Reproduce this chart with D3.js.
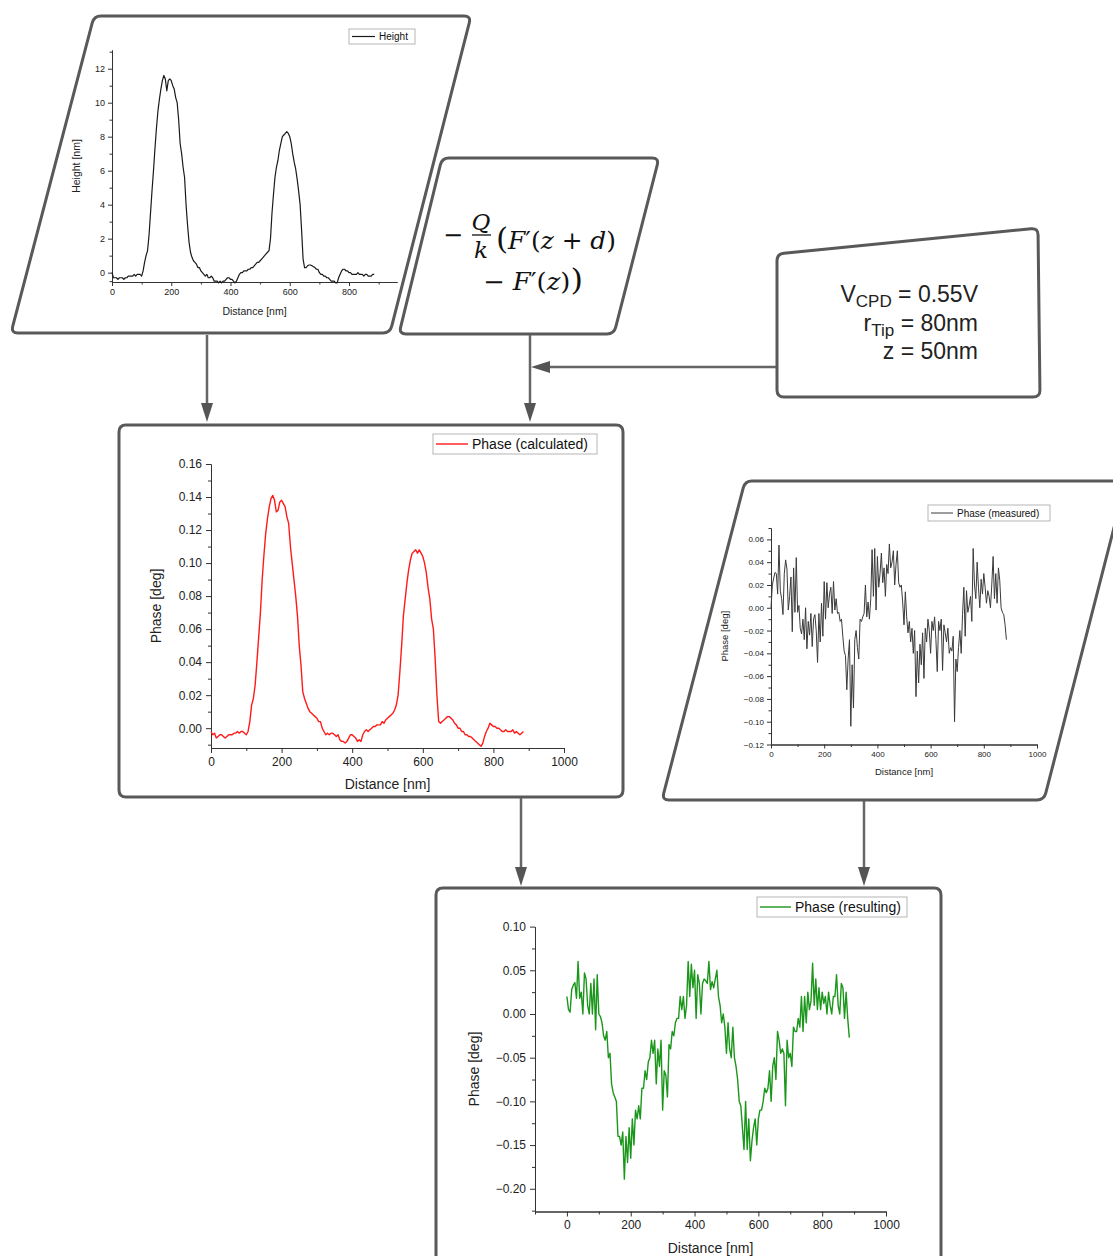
<!DOCTYPE html>
<html>
<head>
<meta charset="utf-8">
<script src="https://cdn.jsdelivr.net/npm/d3@7"></script>
<style>
  body { margin: 0; background: #fff; }
  svg { display: block; font-family: "Liberation Sans", Arial, sans-serif; }
</style>
</head>
<body>
<script>
// sampling positions along the scan line [nm]
const distance = [
  0, 5, 10, 15, 20, 25, 30, 35, 40, 45,
  50, 55, 60, 65, 70, 75, 80, 85, 90, 95,
  100, 105, 110, 115, 120, 125, 130, 135, 140, 145,
  150, 155, 160, 165, 170, 175, 180, 185, 190, 195,
  200, 205, 210, 215, 220, 225, 230, 235, 240, 245,
  250, 255, 260, 265, 270, 275, 280, 285, 290, 295,
  300, 305, 310, 315, 320, 325, 330, 335, 340, 345,
  350, 355, 360, 365, 370, 375, 380, 385, 390, 395,
  400, 405, 410, 415, 420, 425, 430, 435, 440, 445,
  450, 455, 460, 465, 470, 475, 480, 485, 490, 495,
  500, 505, 510, 515, 520, 525, 530, 535, 540, 545,
  550, 555, 560, 565, 570, 575, 580, 585, 590, 595,
  600, 605, 610, 615, 620, 625, 630, 635, 640, 645,
  650, 655, 660, 665, 670, 675, 680, 685, 690, 695,
  700, 705, 710, 715, 720, 725, 730, 735, 740, 745,
  750, 755, 760, 765, 770, 775, 780, 785, 790, 795,
  800, 805, 810, 815, 820, 825, 830, 835, 840, 845,
  850, 855, 860, 865, 870, 875, 880, 885
];

// topography [nm]
const heightProfile = [
  0.0, -0.3, -0.3, -0.3, -0.4, -0.3, -0.3, -0.3, -0.4, -0.3,
  -0.3, -0.2, -0.2, -0.2, -0.2, -0.1, -0.2, -0.1, -0.1, -0.1,
  -0.2, 0.1, 0.6, 1.0, 1.3, 2.2, 3.5, 4.8, 6.0, 7.3,
  8.5, 9.5, 10.2, 10.8, 11.3, 11.6, 11.4, 10.7, 11.3, 11.4,
  11.3, 11.0, 10.8, 10.3, 10.0, 9.0, 7.6, 7.0, 6.2, 5.6,
  4.0, 2.8, 1.8, 1.2, 0.9, 0.7, 0.6, 0.5, 0.3, 0.3,
  0.1, 0.0, -0.1, -0.2, -0.1, -0.3, -0.3, -0.2, -0.3, -0.5,
  -0.5, -0.5, -0.6, -0.5, -0.6, -0.5, -0.5, -0.4, -0.3, -0.3,
  -0.4, -0.4, -0.5, -0.6, -0.5, -0.3, -0.1, 0.0, 0.0, 0.1,
  0.1, 0.1, 0.2, 0.2, 0.3, 0.3, 0.4, 0.5, 0.6, 0.6,
  0.7, 0.8, 0.9, 1.0, 1.1, 1.2, 1.3, 2.0, 3.5, 4.6,
  5.6, 6.2, 6.6, 7.2, 7.6, 8.0, 8.1, 8.2, 8.3, 8.2,
  8.0, 7.6, 7.0, 6.5, 6.1, 5.5, 4.8, 4.0, 2.5, 0.8,
  0.3, 0.3, 0.4, 0.45, 0.45, 0.4, 0.35, 0.3, 0.2, 0.2,
  0.0, -0.1, -0.1, -0.2, -0.2, -0.3, -0.3, -0.4, -0.5, -0.5,
  -0.5, -0.6, -0.6, -0.3, -0.1, 0.1, 0.2, 0.2, 0.1, 0.1,
  0.0, 0.0, -0.1, -0.1, -0.1, -0.1, 0.0, -0.1, -0.1, -0.1,
  -0.2, -0.1, -0.1, -0.2, -0.2, -0.2, -0.1, -0.1
];

// calculated phase [deg]
const phaseCalculated = [
  -0.002, -0.004, -0.003, -0.006, -0.005, -0.004, -0.004, -0.005, -0.006, -0.005,
  -0.004, -0.004, -0.004, -0.003, -0.003, -0.002, -0.003, -0.002, -0.002, -0.003,
  -0.004, -0.002, 0.004, 0.014, 0.018, 0.026, 0.040, 0.055, 0.070, 0.090,
  0.105, 0.118, 0.127, 0.134, 0.139, 0.141, 0.138, 0.131, 0.132, 0.137,
  0.138, 0.136, 0.134, 0.128, 0.124, 0.110, 0.100, 0.090, 0.080, 0.068,
  0.050, 0.038, 0.022, 0.018, 0.015, 0.012, 0.010, 0.009, 0.008, 0.007,
  0.006, 0.004, 0.004, 0.000, -0.002, -0.004, -0.003, -0.004, -0.003, -0.003,
  -0.004, -0.005, -0.004, -0.007, -0.008, -0.008, -0.009, -0.008, -0.006, -0.004,
  -0.004, -0.005, -0.006, -0.008, -0.007, -0.008, -0.004, -0.002, -0.001, -0.002,
  -0.001, 0.000, 0.001, 0.001, 0.002, 0.002, 0.002, 0.004, 0.003, 0.005,
  0.006, 0.007, 0.008, 0.009, 0.011, 0.014, 0.020, 0.034, 0.050, 0.068,
  0.078, 0.088, 0.096, 0.102, 0.106, 0.107, 0.108, 0.106, 0.108, 0.106,
  0.104, 0.100, 0.094, 0.085, 0.078, 0.066, 0.060, 0.042, 0.020, 0.004,
  0.003, 0.004, 0.005, 0.006, 0.007, 0.007, 0.006, 0.005, 0.003, 0.002,
  0.000, 0.000, -0.002, -0.002, -0.004, -0.004, -0.005, -0.005, -0.006, -0.007,
  -0.008, -0.009, -0.010, -0.011, -0.009, -0.005, -0.002, 0.000, 0.003, 0.002,
  0.001, 0.001, 0.000, 0.000, -0.001, -0.002, -0.002, -0.001, -0.002, -0.002,
  -0.002, -0.001, -0.003, -0.002, -0.003, -0.004, -0.003, -0.002
];

// measured phase [deg]
const phaseMeasured = [
  0.000, 0.020, 0.026, 0.031, 0.030, 0.012, 0.055, 0.015, 0.008, -0.006,
  0.030, 0.042, 0.034, -0.002, 0.010, 0.027, -0.021, 0.035, -0.004, 0.044,
  -0.004, 0.002, -0.018, -0.023, -0.010, -0.028, 0.000, -0.036, -0.012, -0.024,
  -0.005, -0.034, -0.010, -0.006, -0.020, -0.048, -0.005, -0.030, 0.004, -0.025,
  0.023, -0.010, 0.022, 0.000, 0.012, 0.018, -0.005, 0.023, -0.002, 0.008,
  -0.005, -0.004, -0.012, -0.010, -0.025, -0.038, -0.042, -0.072, -0.045, -0.028,
  -0.104, -0.050, -0.088, -0.028, -0.020, -0.035, -0.045, -0.010, -0.012, -0.008,
  -0.005, 0.020, -0.008, 0.005, -0.010, 0.008, 0.051, 0.010, 0.052, -0.002,
  0.045, 0.018, 0.030, 0.048, 0.022, 0.035, 0.010, 0.038, 0.030, 0.056,
  0.035, 0.040, 0.050, 0.020, 0.038, 0.050, 0.022, 0.018, 0.020, 0.005,
  -0.015, 0.014, -0.008, -0.022, -0.012, -0.030, -0.018, -0.040, -0.020, -0.078,
  -0.038, -0.066, -0.032, -0.050, -0.022, -0.062, -0.018, -0.030, -0.010, -0.020,
  -0.040, -0.012, -0.020, -0.008, -0.028, -0.056, -0.012, -0.020, -0.010, -0.055,
  -0.015, -0.022, -0.030, -0.018, -0.040, -0.035, -0.038, -0.025, -0.100, -0.045,
  -0.056, -0.035, -0.020, -0.040, -0.006, 0.018, -0.025, 0.015, -0.004, 0.002,
  0.010, -0.012, 0.052, 0.020, 0.008, 0.040, 0.018, 0.000, 0.025, 0.012,
  0.030, 0.018, 0.004, 0.015, 0.010, 0.000, 0.020, 0.045, 0.008, 0.030,
  0.004, 0.035, 0.024, 0.000, -0.004, -0.006, -0.015, -0.028
];

// resulting phase [deg]
const phaseResulting = [
  0.020, 0.005, 0.002, 0.028, 0.033, 0.036, 0.018, 0.060, 0.018, 0.025,
  0.000, 0.047, 0.040, 0.010, 0.000, 0.035, 0.000, 0.040, -0.018, 0.045,
  0.000, -0.003, -0.010, -0.025, -0.030, -0.020, -0.050, -0.045, -0.080, -0.090,
  -0.095, -0.100, -0.140, -0.140, -0.150, -0.135, -0.189, -0.140, -0.170, -0.130,
  -0.165, -0.120, -0.150, -0.110, -0.120, -0.105, -0.120, -0.085, -0.085, -0.065,
  -0.075, -0.055, -0.050, -0.030, -0.045, -0.030, -0.080, -0.040, -0.060, -0.030,
  -0.110, -0.065, -0.070, -0.095, -0.035, -0.040, -0.020, -0.025, -0.010, -0.005,
  -0.005, 0.020, 0.005, 0.020, -0.005, 0.010, 0.060, 0.020, 0.057, 0.030,
  0.050, -0.005, 0.045, 0.035, 0.000, 0.035, 0.040, 0.038, 0.035, 0.060,
  0.028, 0.037, 0.030, 0.040, 0.050, 0.020, 0.010, -0.010, 0.000, -0.015,
  -0.045, -0.010, -0.040, -0.050, -0.015, -0.050, -0.060, -0.075, -0.100, -0.105,
  -0.130, -0.155, -0.100, -0.155, -0.120, -0.168, -0.145, -0.130, -0.120, -0.150,
  -0.120, -0.110, -0.110, -0.100, -0.085, -0.090, -0.085, -0.065, -0.100, -0.060,
  -0.050, -0.075, -0.020, -0.030, -0.045, -0.040, -0.045, -0.105, -0.030, -0.050,
  -0.045, -0.060, -0.015, -0.020, -0.020, -0.005, -0.015, 0.020, -0.020, 0.020,
  -0.010, 0.025, 0.005, 0.015, 0.058, 0.010, 0.040, 0.005, 0.030, 0.005,
  0.025, 0.012, 0.020, 0.000, 0.025, 0.010, 0.000, 0.020, 0.020, 0.045,
  0.010, 0.000, 0.035, 0.030, -0.005, 0.025, -0.005, -0.027
];

// tick values
const heightYTicks = [0, 2, 4, 6, 8, 10, 12];
const heightYMinor = [-0.5, 1, 3, 5, 7, 9, 11, 13];
const heightXTicks = [0, 200, 400, 600, 800];
const heightXMinor = [100, 300, 500, 700, 900];
const calcYTicks = [0, 0.02, 0.04, 0.06, 0.08, 0.10, 0.12, 0.14, 0.16];
const calcYMinor = [-0.01, 0.01, 0.03, 0.05, 0.07, 0.09, 0.11, 0.13, 0.15];
const phaseXTicks = [0, 200, 400, 600, 800, 1000];
const phaseXMinor = [100, 300, 500, 700, 900];
const measYTicks = [-0.12, -0.10, -0.08, -0.06, -0.04, -0.02, 0, 0.02, 0.04, 0.06];
const measYMinor = [-0.11, -0.09, -0.07, -0.05, -0.03, -0.01, 0.01, 0.03, 0.05, 0.07];
const resYTicks = [-0.20, -0.15, -0.10, -0.05, 0, 0.05, 0.10];
const resYMinor = [-0.225, -0.175, -0.125, -0.075, -0.025, 0.025, 0.075];
const resXMinor = [-100, 100, 300, 500, 700, 900];

const W = 1113, H = 1256;
const svg = d3.select("body").append("svg")
  .attr("width", W).attr("height", H);

const frameColor = "#595959";
const arrowColor = "#666";

// path for a polygon with rounded corners
const roundedPath = function(pts, r){
  var n = pts.length, d = "";
  for (var i = 0; i < n; i++){
    var p0 = pts[(i - 1 + n) % n], p1 = pts[i], p2 = pts[(i + 1) % n];
    var l1 = Math.hypot(p0[0] - p1[0], p0[1] - p1[1]);
    var l2 = Math.hypot(p2[0] - p1[0], p2[1] - p1[1]);
    var a = [p1[0] + (p0[0] - p1[0]) / l1 * r, p1[1] + (p0[1] - p1[1]) / l1 * r];
    var b = [p1[0] + (p2[0] - p1[0]) / l2 * r, p1[1] + (p2[1] - p1[1]) / l2 * r];
    d += (i == 0 ? "M" : "L") + a[0] + "," + a[1] + "Q" + p1[0] + "," + p1[1] + " " + b[0] + "," + b[1];
  }
  return d + "Z";
};

const drawFrame = function(pts){
  svg.append("path")
     .attr("d", roundedPath(pts, 7))
     .attr("fill", "#fff")
     .attr("stroke", frameColor)
     .attr("stroke-width", 3);
};

// frames
drawFrame([[94, 16], [471, 16], [390, 333], [11, 333]]);
drawFrame([[442, 158], [659, 158], [614, 334], [399, 334]]);
drawFrame([[777, 254], [1038, 228], [1040, 397], [777, 397]]);
drawFrame([[119, 425], [623, 425], [623, 797], [119, 797]]);
drawFrame([[745, 481], [1126, 481], [1044, 800], [662, 800]]);
drawFrame([[436, 888], [941, 888], [941, 1280], [436, 1280]]);

// arrows
const arrowDown = function(x, y0, y1){
  svg.append("line")
     .attr("x1", x).attr("x2", x).attr("y1", y0).attr("y2", y1 - 16)
     .attr("stroke", arrowColor).attr("stroke-width", 2.5);
  svg.append("path")
     .attr("d", `M${x - 6},${y1 - 19}L${x + 6},${y1 - 19}L${x},${y1}Z`)
     .attr("fill", "#555");
};
arrowDown(207, 335, 422);
arrowDown(530, 335, 422);
arrowDown(521, 798, 886);
arrowDown(864, 801, 886);
svg.append("line")
   .attr("x1", 776).attr("x2", 547).attr("y1", 367).attr("y2", 367)
   .attr("stroke", arrowColor).attr("stroke-width", 2.5);
svg.append("path")
   .attr("d", "M550,361L550,373L531,367Z")
   .attr("fill", "#555");

// one line chart panel
const drawPanel = function(o){
  var x = d3.scaleLinear().domain(o.xDomain).range(o.xRange);
  var y = d3.scaleLinear().domain(o.yDomain).range(o.yRange);
  var g = svg.append("g");
  var fmt = o.yFormat ? d3.format(o.yFormat) : d3.format("d");

  // minor ticks
  g.append("g")
   .attr("transform", `translate(${o.xRange[0]},0)`)
   .call(d3.axisLeft(y).tickValues(o.yMinor).tickSize(o.minorSize).tickFormat("").tickSizeOuter(0));
  g.append("g")
   .attr("transform", `translate(0,${o.yRange[0]})`)
   .call(d3.axisBottom(x).tickValues(o.xMinor).tickSize(o.minorSize).tickFormat("").tickSizeOuter(0));
  // major ticks
  var yAx = g.append("g")
   .attr("transform", `translate(${o.xRange[0]},0)`)
   .call(d3.axisLeft(y).tickValues(o.yTicks).tickSize(o.majorSize).tickPadding(o.pad)
          .tickFormat(fmt).tickSizeOuter(0));
  var xAx = g.append("g")
   .attr("transform", `translate(0,${o.yRange[0]})`)
   .call(d3.axisBottom(x).tickValues(o.xTicks).tickSize(o.majorSize).tickPadding(o.pad)
          .tickFormat(d3.format("d")).tickSizeOuter(0));
  g.selectAll(".domain, .tick line").attr("stroke", "#333").attr("stroke-width", 1);
  g.selectAll(".tick text")
   .attr("font-family", "Liberation Sans, Arial, sans-serif")
   .attr("font-size", o.tickFont).attr("fill", "#222");

  // axis titles
  g.append("text")
   .attr("transform", `translate(${o.yTitleX},${(o.yRange[0] + o.yRange[1]) / 2}) rotate(-90)`)
   .attr("text-anchor", "middle")
   .attr("font-size", o.titleFont).attr("fill", "#222")
   .text(o.yTitle);
  g.append("text")
   .attr("x", (o.xRange[0] + o.xRange[1]) / 2)
   .attr("y", o.xTitleY)
   .attr("text-anchor", "middle")
   .attr("font-size", o.titleFont).attr("fill", "#222")
   .text("Distance [nm]");

  // data line
  var pts = distance.map(function(d, i){ return [d, o.values[i]]; });
  var line = d3.line()
               .x(function(d){ return x(d[0]); })
               .y(function(d){ return y(d[1]); });
  g.append("path")
   .attr("d", line(pts))
   .attr("fill", "none")
   .attr("stroke", o.color)
   .attr("stroke-width", o.lineWidth)
   .attr("stroke-linejoin", "round");

  // legend
  var L = o.legend;
  g.append("rect")
   .attr("x", L.x).attr("y", L.y).attr("width", L.w).attr("height", L.h)
   .attr("fill", "#fff").attr("stroke", "#b5b5b5").attr("stroke-width", 1);
  g.append("line")
   .attr("x1", L.x + 3).attr("x2", L.x + L.line).attr("y1", L.y + L.h / 2).attr("y2", L.y + L.h / 2)
   .attr("stroke", o.color).attr("stroke-width", o.lineWidth);
  g.append("text")
   .attr("x", L.x + L.line + 4).attr("y", L.y + L.h / 2 + L.font * 0.36)
   .attr("font-size", L.font).attr("fill", "#111")
   .text(L.text);
};

// height profile
drawPanel({
  xDomain: [0, 962], xRange: [112, 397],
  yDomain: [-0.55, 13.1], yRange: [282, 50],
  xTicks: heightXTicks, xMinor: heightXMinor,
  yTicks: heightYTicks, yMinor: heightYMinor,
  majorSize: 4, minorSize: 2.5, pad: 3,
  tickFont: 9, titleFont: 10.5,
  yTitle: "Height [nm]", yTitleX: 80, xTitleY: 315,
  values: heightProfile, color: "#1a1a1a", lineWidth: 1.2,
  legend: {x: 349, y: 29, w: 66, h: 15, line: 26, font: 10, text: "Height"}
});

// calculated phase
drawPanel({
  xDomain: [0, 1000], xRange: [211, 564],
  yDomain: [-0.012, 0.16], yRange: [748, 464],
  xTicks: phaseXTicks, xMinor: phaseXMinor,
  yTicks: calcYTicks, yMinor: calcYMinor, yFormat: ".2f",
  majorSize: 5, minorSize: 3, pad: 4,
  tickFont: 12, titleFont: 14,
  yTitle: "Phase [deg]", yTitleX: 161, xTitleY: 789,
  values: phaseCalculated, color: "#ff1a1a", lineWidth: 1.4,
  legend: {x: 433, y: 434, w: 164, h: 20, line: 35, font: 14, text: "Phase (calculated)"}
});

// measured phase
drawPanel({
  xDomain: [0, 1000], xRange: [771, 1037],
  yDomain: [-0.12, 0.07], yRange: [744.5, 528],
  xTicks: phaseXTicks, xMinor: phaseXMinor,
  yTicks: measYTicks, yMinor: measYMinor, yFormat: ".2f",
  majorSize: 4, minorSize: 2.5, pad: 3,
  tickFont: 8, titleFont: 9.5,
  yTitle: "Phase [deg]", yTitleX: 728, xTitleY: 775,
  values: phaseMeasured, color: "#3a3a3a", lineWidth: 1,
  legend: {x: 928, y: 505, w: 122, h: 16, line: 25, font: 10, text: "Phase (measured)"}
});

// resulting phase
drawPanel({
  xDomain: [-100, 1000], xRange: [535, 886],
  yDomain: [-0.226, 0.10], yRange: [1211.5, 926.6],
  xTicks: phaseXTicks, xMinor: resXMinor,
  yTicks: resYTicks, yMinor: resYMinor, yFormat: ".2f",
  majorSize: 5, minorSize: 3, pad: 4,
  tickFont: 12, titleFont: 14,
  yTitle: "Phase [deg]", yTitleX: 479, xTitleY: 1253,
  values: phaseResulting, color: "#1a961a", lineWidth: 1.4,
  legend: {x: 757, y: 897, w: 150, h: 20, line: 34, font: 14, text: "Phase (resulting)"}
});

// formula box
const mathFont = "DejaVu Serif, Liberation Serif, serif";
const fx = svg.append("g").attr("font-family", mathFont).attr("fill", "#111");
fx.append("text").attr("x", 453).attr("y", 243).attr("text-anchor", "middle")
  .attr("font-size", 24).text("\u2212");
fx.append("text").attr("x", 481).attr("y", 230).attr("text-anchor", "middle")
  .attr("font-size", 23).attr("font-style", "italic").text("Q");
fx.append("line").attr("x1", 472).attr("x2", 491).attr("y1", 235).attr("y2", 235)
  .attr("stroke", "#111").attr("stroke-width", 1.3);
fx.append("text").attr("x", 481).attr("y", 258).attr("text-anchor", "middle")
  .attr("font-size", 23).attr("font-style", "italic").text("k");

const line1 = fx.append("text").attr("x", 496).attr("y", 249).attr("font-size", 24)
  .attr("textLength", 120).attr("lengthAdjust", "spacingAndGlyphs");
line1.append("tspan").attr("font-size", 30).text("(");
line1.append("tspan").attr("font-style", "italic").text("F");
line1.append("tspan").text("\u2032(");
line1.append("tspan").attr("font-style", "italic").text("z");
line1.append("tspan").text(" + ");
line1.append("tspan").attr("font-style", "italic").text("d");
line1.append("tspan").text(")");

const line2 = fx.append("text").attr("x", 483).attr("y", 290).attr("font-size", 24)
  .attr("textLength", 100).attr("lengthAdjust", "spacingAndGlyphs");
line2.append("tspan").text("\u2212 ");
line2.append("tspan").attr("font-style", "italic").text("F");
line2.append("tspan").text("\u2032(");
line2.append("tspan").attr("font-style", "italic").text("z");
line2.append("tspan").text(")");
line2.append("tspan").attr("font-size", 30).text(")");

// parameter box
const params = [
  {main: "V", sub: "CPD", rest: " = 0.55V", y: 302},
  {main: "r", sub: "Tip", rest: " = 80nm", y: 331},
  {main: "z = 50nm", sub: "", rest: "", y: 359}
];
params.forEach(function(p){
  var t = svg.append("text")
             .attr("x", 978).attr("y", p.y)
             .attr("text-anchor", "end")
             .attr("font-size", 23).attr("fill", "#222");
  t.append("tspan").text(p.main);
  if (p.sub){
    t.append("tspan").attr("font-size", 17).attr("dy", 5).text(p.sub);
    t.append("tspan").attr("dy", -5).text(p.rest);
  }
});
</script>
</body>
</html>
